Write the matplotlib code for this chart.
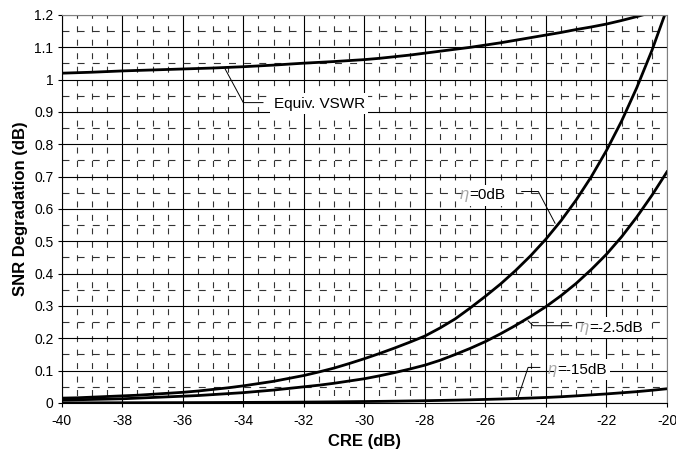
import matplotlib
matplotlib.use("Agg")
import numpy as np
import matplotlib.pyplot as plt
from matplotlib.ticker import MultipleLocator

plt.rcParams['font.family'] = ['Liberation Sans', 'DejaVu Sans']
plt.rcParams['lines.scale_dashes'] = False

# Données (pas de 0.5 dB)
cre_db = np.arange(-40, -19.9, 0.5)
eta_0db = [0.015, 0.016, 0.018, 0.020, 0.022, 0.024, 0.027, 0.030, 0.033, 0.037,
           0.042, 0.047, 0.053, 0.060, 0.067, 0.076, 0.085, 0.096, 0.108, 0.122,
           0.137, 0.153, 0.170, 0.188, 0.207, 0.232, 0.260, 0.294, 0.330, 0.368,
           0.410, 0.456, 0.507, 0.564, 0.628, 0.700, 0.781, 0.872, 0.975, 1.090, 1.220]
eta_m2_5db = [0.009, 0.010, 0.011, 0.012, 0.013, 0.015, 0.017, 0.019, 0.021, 0.023,
              0.026, 0.029, 0.032, 0.036, 0.040, 0.045, 0.050, 0.055, 0.061, 0.068,
              0.075, 0.084, 0.094, 0.105, 0.117, 0.132, 0.150, 0.169, 0.190, 0.214,
              0.240, 0.268, 0.298, 0.332, 0.370, 0.413, 0.460, 0.514, 0.575, 0.642, 0.715]
eta_m15db = [0.00045, 0.0005, 0.00056, 0.00063, 0.0007, 0.0008, 0.0009, 0.001, 0.0011, 0.00125,
             0.0014, 0.0016, 0.0018, 0.002, 0.0022, 0.0025, 0.0028, 0.0031, 0.0035, 0.004,
             0.0045, 0.005, 0.0056, 0.0063, 0.007, 0.0079, 0.0088, 0.0098, 0.011, 0.0123,
             0.0137, 0.0153, 0.017, 0.0193, 0.022, 0.025, 0.028, 0.0315, 0.035, 0.0393, 0.044]
equiv_vswr = [1.020, 1.0215, 1.023, 1.025, 1.027, 1.0285, 1.030, 1.0315, 1.033, 1.0345,
              1.036, 1.038, 1.040, 1.0425, 1.045, 1.048, 1.051, 1.0535, 1.056, 1.059,
              1.062, 1.066, 1.071, 1.076, 1.082, 1.088, 1.094, 1.100, 1.107, 1.114,
              1.122, 1.130, 1.138, 1.146, 1.155, 1.163, 1.172, 1.183, 1.195, 1.208, 1.222]

fig = plt.figure(figsize=(6.76, 4.57), dpi=100)
ax = fig.add_axes([0.0913, 0.1182, 0.8954, 0.849])

ax.set_xlim(-40, -20)
ax.set_ylim(0, 1.2)

# Grille style Excel : traits pleins (majeurs) et tirets (mineurs)
ax.xaxis.set_major_locator(MultipleLocator(2))
ax.xaxis.set_minor_locator(MultipleLocator(0.5))
ax.yaxis.set_major_locator(MultipleLocator(0.1))
ax.yaxis.set_minor_locator(MultipleLocator(0.05))
ax.grid(which='major', color='black', linewidth=0.8, linestyle='-')
ax.xaxis.grid(which='minor', color='#333333', linewidth=0.8, linestyle=(4.3, (4.3, 5.4)))
ax.yaxis.grid(which='minor', color='#333333', linewidth=0.8, linestyle=(0, (5.0, 5.9)))
ax.set_axisbelow(True)
ax.tick_params(which='minor', length=0)
ax.tick_params(which='major', length=3, width=0.8, labelsize=10, direction='out')
ax.tick_params(axis='x', pad=5)
ax.tick_params(axis='y', pad=3)

ax.set_xticklabels([f'{int(v)}' for v in ax.get_xticks()])
ax.set_yticklabels(['0' if v == 0 else ('1' if abs(v - 1) < 1e-9 else f'{v:.1f}') for v in ax.get_yticks()])

for s in ['top', 'right']:
    ax.spines[s].set_color('#808080')
for s in ['left', 'bottom']:
    ax.spines[s].set_color('black')

lw = 2.0
ax.plot(cre_db, equiv_vswr, color='black', linewidth=lw)
ax.plot(cre_db, eta_0db, color='black', linewidth=lw)
ax.plot(cre_db, eta_m2_5db, color='black', linewidth=lw)
ax.plot(cre_db, eta_m15db, color='black', linewidth=lw)

ax.set_xlabel('CRE (dB)', fontsize=12, fontweight='bold', labelpad=4)
ax.set_ylabel('SNR Degradation (dB)', fontsize=12, fontweight='bold', labelpad=4)

box = dict(facecolor='white', edgecolor='none', pad=2.5)

# Étiquettes avec lignes de rappel
ax.plot([-34.6, -34.0, -33.35], [1.033, 0.929, 0.929], color='black', linewidth=0.7)
ax.text(-33.0, 0.925, 'Equiv. VSWR', fontsize=11, va='center', ha='left', bbox=box)


def eta_label(x, y, txt):
    t = ax.text(x, y, 'η', fontsize=12, color='#a8a8a8', style='italic',
                va='baseline', ha='left', zorder=5)
    ax.annotate(txt, xy=(1, y), xycoords=(t, 'data'), fontsize=11,
                va='baseline', ha='left', bbox=box, zorder=4)


ax.plot([-24.8, -24.25, -23.7], [0.654, 0.654, 0.556], color='black', linewidth=0.7)
eta_label(-26.84, 0.63, '=0dB')

ax.plot([-24.59, -24.42, -23.15], [0.254, 0.239, 0.239], color='black', linewidth=0.7)
eta_label(-22.88, 0.22, '=-2.5dB')

ax.plot([-24.92, -24.59, -24.20], [0.018, 0.110, 0.110], color='black', linewidth=0.7)
eta_label(-23.94, 0.09, '=-15dB')

fig.savefig('out.png', dpi=100)
